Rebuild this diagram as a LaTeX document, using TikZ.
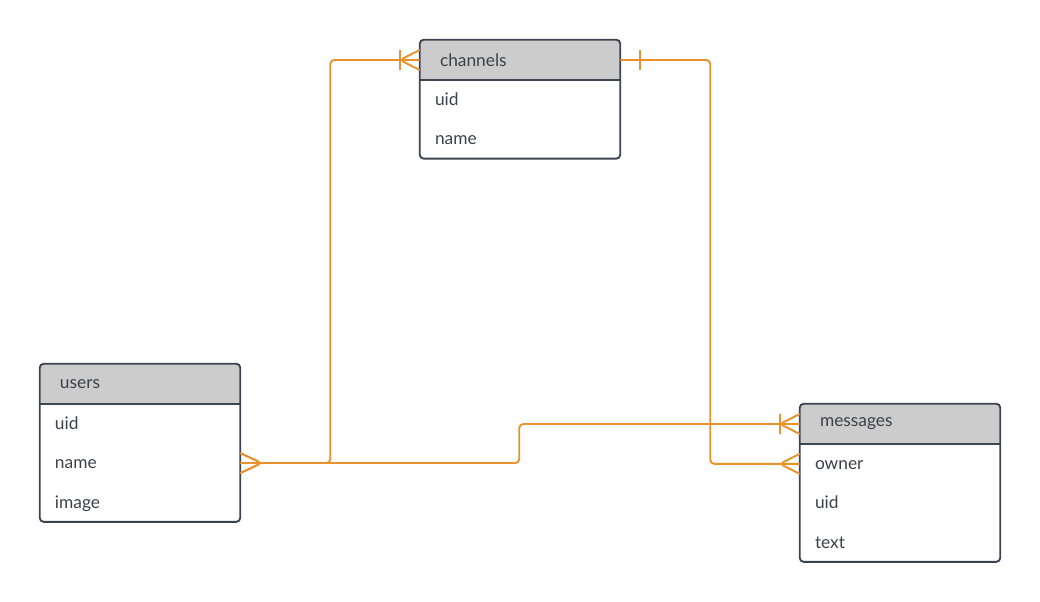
\documentclass[tikz,border=0pt]{standalone}
\usepackage{fontspec}
\setmainfont{Lato}
\usetikzlibrary{positioning, decorations.markings}
\definecolor{relorange}{HTML}{E8912D}
\definecolor{headgray}{HTML}{CCCCCC}
\definecolor{bordergray}{HTML}{3D4451}
\definecolor{labelgray}{HTML}{3A414A}
\tikzstyle{Relation} = [
%orange connector between two tables:
draw=relorange, line width=1.4pt, rounded corners=3pt
]
\tikzstyle{ManyStart} = [
postaction = {decorate, decoration={markings,
mark=at position 16pt with {\draw[relorange, line width=1.4pt] (-16pt,7.5pt) -- (0,0) -- (-16pt,-7.5pt);}}}
]
\tikzstyle{ManyEnd} = [
postaction = {decorate, decoration={markings,
mark=at position -15pt with {\draw[relorange, line width=1.4pt] (15pt,7.5pt) -- (0,0) -- (15pt,-7.5pt);}}}
]
\tikzstyle{OneStart} = [
postaction = {decorate, decoration={markings,
mark=at position 15pt with {\draw[relorange, line width=1.4pt] (0,7.5pt) -- (0,-7.5pt);}}}
]
\tikzstyle{OneManyEnd} = [
ManyEnd,
postaction = {decorate, decoration={markings,
mark=at position -15pt with {\draw[relorange, line width=1.4pt] (0,7.5pt) -- (0,-7.5pt);}}}
]

\begin{document}
\begin{tikzpicture}[
				x=0.75pt, y=-0.75pt,
				header/.style = {rectangle, text=labelgray, inner xsep=15pt, text width=120pt, minimum height=30pt, align=left, font=\fontsize{13}{15}\selectfont},
				field/.style = {rectangle, text=labelgray, inner xsep=11.25pt, text width=127.5pt, minimum height=29pt, inner ysep=0pt, text height=2ex, text depth=.3ex, align=left, font=\fontsize{13}{15}\selectfont},
				border/.style = {draw=bordergray, line width=1.4pt},
			]
			\useasboundingbox (0,0) rectangle (1040,602);

			% tables
			\node[header](channels) at (520,60){channels};
			\node[field, below=0pt of channels](channels-uid){uid};
			\node[field, below=0pt of channels-uid](channels-name){name};

			\node[header](users) at (140,384){users};
			\node[field, below=0pt of users](users-uid){uid};
			\node[field, below=0pt of users-uid](users-name){name};
			\node[field, below=0pt of users-name](users-image){image};

			\node[header](messages) at (900,424){messages};
			\node[field, below=0pt of messages](messages-owner){owner};
			\node[field, below=0pt of messages-owner](messages-uid){uid};
			\node[field, below=0pt of messages-uid](messages-text){text};

			\foreach \tab/\last in {channels/name, users/image, messages/text}{
				\begin{scope}
					\clip[rounded corners=3pt] (\tab.north west) rectangle (\tab-\last.south east);
					\fill[headgray] (\tab.north west) rectangle (\tab.south east);
				\end{scope}
				\node[header] at (\tab) {\tab};
				\draw[border](\tab.south west)--(\tab.south east);
				\draw[border, rounded corners=3pt](\tab.north west) rectangle (\tab-\last.south east);
			}

			% relations
			\draw[Relation, ManyStart, OneManyEnd](users-name.east)--++(90,0)|-(channels.west);
			\draw[Relation, ManyStart, OneManyEnd](users-name.east)--++(279,0)|-(messages.west);
			\draw[Relation, OneStart, ManyEnd](channels.east)--++(90,0)|-(messages-owner.west);

		\end{tikzpicture}
\end{document}
